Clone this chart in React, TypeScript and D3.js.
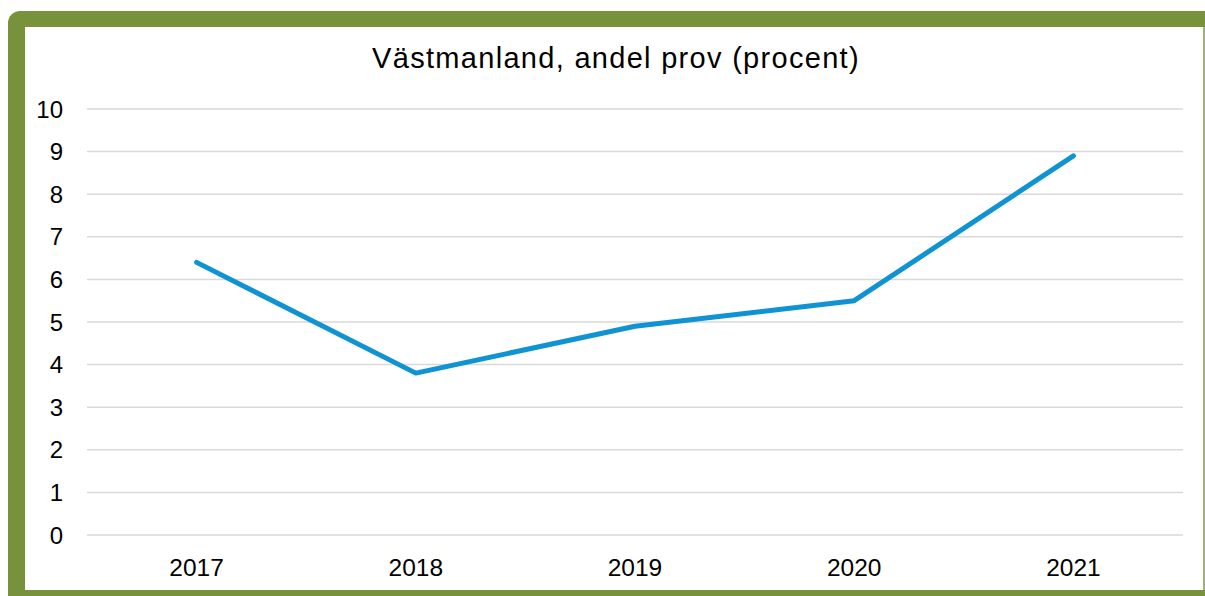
import * as d3 from "d3";

const years = ["2017", "2018", "2019", "2020", "2021"];
const values = [6.4, 3.8, 4.9, 5.5, 8.9];
const yTicks = [0, 1, 2, 3, 4, 5, 6, 7, 8, 9, 10];

export default function App() {
  const width = 1205;
  const height = 596;
  const plot = { left: 87, right: 1183, top: 109, bottom: 535 };

  const x = d3.scaleBand().domain(years).range([plot.left, plot.right]);
  const y = d3.scaleLinear().domain([0, 10]).range([plot.bottom, plot.top]);

  const line = d3
    .line<number>()
    .x((_, i) => x(years[i])! + x.bandwidth() / 2)
    .y((d) => y(d));

  const font = "'Liberation Sans', Arial, sans-serif";

  return (
    <svg width={width} height={height} style={{ position: "absolute", left: 0, top: 0 }}>
      <rect width={width} height={height} fill="#fff" />
      {/* green frame */}
      <rect x={8} y={11} width={1250} height={640} rx={12} fill="#77923b" />
      <rect x={25} y={27} width={1178} height={563} fill="#fff" />
      <line x1={1204} x2={1204} y1={27} y2={590} stroke="#c9d0b2" strokeWidth={1} />

      <text x={616} y={68} textAnchor="middle" fontFamily={font} fontSize={29} letterSpacing={1.3} fill="#000">
        Västmanland, andel prov (procent)
      </text>

      {yTicks.map((t) => (
        <g key={t}>
          <line x1={plot.left} x2={plot.right} y1={y(t)} y2={y(t)} stroke="#d9d9d9" strokeWidth={1.5} />
          <text x={63} y={y(t) + 8.5} textAnchor="end" fontFamily={font} fontSize={24} fill="#000">
            {t}
          </text>
        </g>
      ))}

      {years.map((yr) => (
        <text
          key={yr}
          x={x(yr)! + x.bandwidth() / 2}
          y={576}
          textAnchor="middle"
          fontFamily={font}
          fontSize={24.5}
          fill="#000"
        >
          {yr}
        </text>
      ))}

      <path d={line(values)!} fill="none" stroke="#0f93d2" strokeWidth={5} strokeLinecap="round" strokeLinejoin="round" />
    </svg>
  );
}
